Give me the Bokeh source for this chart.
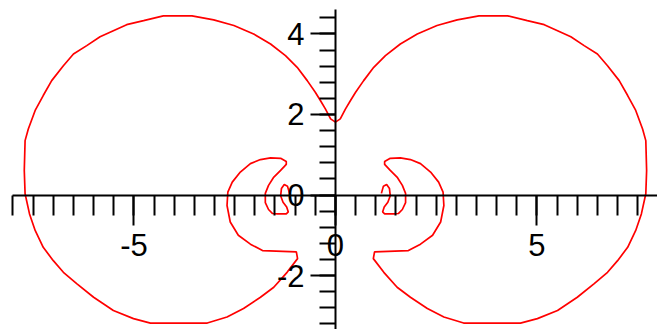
from bokeh.plotting import figure
from bokeh.models import LinearAxis, FixedTicker, Range1d
from bokeh.embed import file_html
from bokeh.resources import INLINE

# Right-hand branch: inner curl -> crescent -> big lobe -> cusp on the y-axis
right_x = [1.14, 1.19, 1.27, 1.34, 1.36, 1.30, 1.21, 1.17, 1.22, 1.44, 1.56, 1.66, 1.74, 1.74,
           1.66, 1.54, 1.36, 1.22, 1.22, 1.36, 1.61, 1.86, 2.11, 2.36, 2.56, 2.67,
           2.69, 2.61, 2.41, 2.11, 1.81, 0.97, 0.94, 1.20, 1.53, 1.86, 2.28, 2.69,
           3.18, 3.77, 4.59, 5.01, 5.51, 6.00, 6.42, 6.75, 7.00, 7.25, 7.45, 7.59,
           7.70, 7.72, 7.70, 7.62, 7.45, 7.25, 7.04, 6.75, 6.50, 6.17, 5.84, 5.51,
           5.18, 4.76, 4.27, 3.56, 3.02, 2.52, 2.03, 1.61, 1.24, 0.95, 0.70, 0.50,
           0.37, 0.25, 0.12, 0.00]
right_y = [0.04, 0.22, 0.26, 0.16, -0.02, -0.18, -0.30, -0.42, -0.47, -0.47, -0.46, -0.36, -0.19, 0.04,
           0.24, 0.43, 0.61, 0.76, 0.83, 0.91, 0.92, 0.88, 0.78, 0.57, 0.32, 0.07,
           -0.26, -0.67, -1.00, -1.22, -1.38, -1.41, -1.58, -1.92, -2.29, -2.54, -2.82, -3.03,
           -3.18, -3.18, -3.18, -3.07, -2.87, -2.54, -2.20, -1.92, -1.63, -1.30, -0.88, -0.47,
           0.03, 0.61, 1.35, 1.64, 2.10, 2.47, 2.84, 3.21, 3.50, 3.71, 3.93, 4.08,
           4.23, 4.33, 4.45, 4.45, 4.35, 4.21, 4.00, 3.75, 3.46, 3.17, 2.84, 2.55,
           2.34, 2.14, 1.89, 1.81]

# Left-hand branch, same order of travel
left_x = [-1.14, -1.19, -1.27, -1.34, -1.36, -1.30, -1.21, -1.17, -1.22, -1.44, -1.56, -1.66, -1.74, -1.74,
          -1.66, -1.54, -1.36, -1.22, -1.22, -1.36, -1.61, -1.86, -2.11, -2.36, -2.56, -2.67,
          -2.69, -2.61, -2.41, -2.11, -1.81, -0.97, -0.94, -1.20, -1.53, -1.86, -2.28, -2.69,
          -3.18, -3.77, -4.59, -5.01, -5.51, -6.00, -6.42, -6.75, -7.00, -7.25, -7.45, -7.59,
          -7.70, -7.72, -7.70, -7.62, -7.45, -7.25, -7.04, -6.75, -6.50, -6.17, -5.84, -5.51,
          -5.18, -4.76, -4.27, -3.56, -3.02, -2.52, -2.03, -1.61, -1.24, -0.95, -0.70, -0.50,
          -0.37, -0.25, -0.12, 0.00]
left_y = [0.04, 0.22, 0.26, 0.16, -0.02, -0.18, -0.30, -0.42, -0.47, -0.47, -0.46, -0.36, -0.19, 0.04,
          0.24, 0.43, 0.61, 0.76, 0.83, 0.91, 0.92, 0.88, 0.78, 0.57, 0.32, 0.07,
          -0.26, -0.67, -1.00, -1.22, -1.38, -1.41, -1.58, -1.92, -2.29, -2.54, -2.82, -3.03,
          -3.18, -3.18, -3.18, -3.07, -2.87, -2.54, -2.20, -1.92, -1.63, -1.30, -0.88, -0.47,
          0.03, 0.61, 1.35, 1.64, 2.10, 2.47, 2.84, 3.21, 3.50, 3.71, 3.93, 4.08,
          4.23, 4.33, 4.45, 4.45, 4.35, 4.21, 4.00, 3.75, 3.46, 3.17, 2.84, 2.55,
          2.34, 2.14, 1.89, 1.81]

x_major = [-5, 0, 5]
x_labels = ["-5", "0", "5"]
x_minor = [i / 2 for i in range(-16, 17)]
y_major = [-2, 0, 2, 4]
y_labels = ["-2", "0", "2", "4"]
y_minor = [round(0.4 * i, 1) for i in range(-8, 12)]

p = figure(width=657, height=329,
           x_range=Range1d(-8.31, 7.99), y_range=Range1d(-3.34, 4.83),
           x_axis_type=None, y_axis_type=None,
           output_backend="svg", toolbar_location=None, min_border=0)
p.outline_line_color = None
p.background_fill_color = "white"
p.border_fill_color = "white"

label_font = "Liberation Sans Narrow, Liberation Sans, sans-serif"

xaxis = LinearAxis(fixed_location=0, bounds=(-8, 8),
                   ticker=FixedTicker(ticks=x_major, minor_ticks=x_minor),
                   major_label_overrides=dict(zip(x_major, x_labels)),
                   axis_line_width=2, axis_line_color="black",
                   major_tick_in=0, major_tick_out=30, major_tick_line_width=2,
                   minor_tick_in=0, minor_tick_out=20, minor_tick_line_width=2,
                   major_label_standoff=9, major_label_text_font=label_font,
                   major_label_text_font_size="31px", major_label_text_color="black")
p.add_layout(xaxis, "below")

yaxis = LinearAxis(fixed_location=0, bounds=(-3.4, 4.6),
                   ticker=FixedTicker(ticks=y_major, minor_ticks=y_minor),
                   major_label_overrides=dict(zip(y_major, y_labels)),
                   axis_line_width=2, axis_line_color="black",
                   major_tick_in=0, major_tick_out=25, major_tick_line_width=2,
                   minor_tick_in=0, minor_tick_out=16, minor_tick_line_width=2,
                   major_label_standoff=6, major_label_text_font=label_font,
                   major_label_text_font_size="31px", major_label_text_color="black")
p.add_layout(yaxis, "left")

p.line(right_x, right_y, line_color="#ff0000", line_width=1.7)
p.line(left_x, left_y, line_color="#ff0000", line_width=1.7)

open("out.html", "w").write(file_html(p, INLINE))
